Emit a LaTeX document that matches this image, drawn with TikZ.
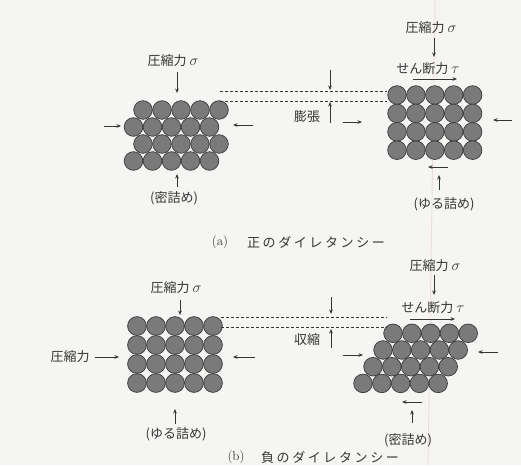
\documentclass[tikz,border=0pt]{standalone}
\usepackage{fontspec}
\newfontfamily\jp{Noto Sans CJK JP}
\newfontfamily\jpcap[LetterSpace=20]{Noto Sans CJK JP}
\usetikzlibrary{arrows.meta}

\definecolor{paper}{HTML}{F5F5F3}
\definecolor{grain}{HTML}{7A7A7A}
\definecolor{grainedge}{HTML}{3A3A3A}
\definecolor{ink}{HTML}{353535}
\definecolor{margin}{HTML}{EEDCDC}

% stress symbols set a little larger than the surrounding text
\newcommand{\stress}[1]{\hspace{3pt}\scalebox{1.25}{$#1$}}

\tikzset{
  lbl/.style={font=\jp\fontsize{13}{13}\selectfont, text=ink, inner sep=0pt},
  captext/.style={font=\jpcap\fontsize{13}{13}\selectfont, text=ink, inner sep=0pt},
  force/.style={draw=ink, line width=0.8pt, -{Stealth[length=4.5pt,width=3.6pt]}},
  levelline/.style={draw=ink, line width=0.8pt, dash pattern=on 3pt off 2pt},
  ball/.style={fill=grain, draw=grainedge, line width=0.7pt},
}

\begin{document}
\begin{tikzpicture}[x=1pt,y=-1pt]
\fill[paper] (0,0) rectangle (521,465);
\useasboundingbox (0,0) rectangle (521,465);
\clip (0,0) rectangle (521,465);

% faint ruled margin line of the page
\draw[margin, line width=0.9pt] (435,0) -- (428,465);

% ---------------- (a) positive dilatancy ----------------
% dense (hexagonal) packing
\foreach \j in {0,...,3}
  \foreach \i in {0,...,4} {
    \pgfmathsetmacro\cx{143 - 9.5*mod(\j,2) + 19*\i}
    \pgfmathsetmacro\cy{110 + 17*\j}
    \draw[ball] (\cx,\cy) circle[radius=9.3pt];
  }
\node[lbl] (aLsig) at (173,61) {圧縮力\stress{\sigma}};
\coordinate (aLt1) at (177,72);  \coordinate (aLt2) at (177,93);
\coordinate (aLl1) at (104,126); \coordinate (aLl2) at (121,126);
\coordinate (aLr1) at (253,125); \coordinate (aLr2) at (233,125);
\coordinate (aLb1) at (177,187); \coordinate (aLb2) at (177,174);
\draw[force] (aLt1) -- (aLt2);
\draw[force] (aLl1) -- (aLl2);
\draw[force] (aLr1) -- (aLr2);
\draw[force] (aLb1) -- (aLb2);
\node[lbl] (aLname) at (174,198) {(密詰め)};

% loose (square) packing
\foreach \j in {0,...,3}
  \foreach \i in {0,...,4} {
    \pgfmathsetmacro\cx{397 + 18.9*\i}
    \pgfmathsetmacro\cy{95 + 18.4*\j}
    \draw[ball] (\cx,\cy) circle[radius=9.3pt];
  }
\node[lbl] (aRsig) at (431,28) {圧縮力\stress{\sigma}};
\node[lbl] (aRtau) at (428,69) {せん断力\stress{\tau}};
\coordinate (aRt1) at (434,38);  \coordinate (aRt2) at (434,57);
\coordinate (aRs1) at (413,79);  \coordinate (aRs2) at (457,79);
\coordinate (aRl1) at (343,122); \coordinate (aRl2) at (362,122);
\coordinate (aRr1) at (512,120); \coordinate (aRr2) at (493,120);
\coordinate (aRd1) at (448,167); \coordinate (aRd2) at (428,167);
\coordinate (aRb1) at (439,190); \coordinate (aRb2) at (439,175);
\draw[force] (aRt1) -- (aRt2);
\draw[force] (aRs1) -- (aRs2);
\draw[force] (aRl1) -- (aRl2);
\draw[force] (aRr1) -- (aRr2);
\draw[force] (aRd1) -- (aRd2);
\draw[force] (aRb1) -- (aRb2);
\node[lbl] (aRname) at (444,204) {(ゆる詰め)};

% level lines and expansion marks
\coordinate (aU1) at (220,91);  \coordinate (aU2) at (387,91);
\coordinate (aD1) at (220,101); \coordinate (aD2) at (387,101);
\draw[levelline] (aU1) -- (aU2);
\draw[levelline] (aD1) -- (aD2);
\coordinate (aM1) at (330,70);  \coordinate (aM2) at (330,90);
\coordinate (aM3) at (330,123); \coordinate (aM4) at (330,102);
\draw[force] (aM1) -- (aM2);
\draw[force] (aM3) -- (aM4);
\node[lbl] (aExp) at (307,117) {膨張};

\node[inner sep=0pt, text=ink, font=\fontsize{13}{13}\selectfont] (aTag) at (220,242) {(a)};
\node[captext] (aCap) at (316,242) {正のダイレタンシー};

% ---------------- (b) negative dilatancy ----------------
% loose (square) packing
\foreach \j in {0,...,3}
  \foreach \i in {0,...,4} {
    \pgfmathsetmacro\cx{137 + 19*\i}
    \pgfmathsetmacro\cy{326 + 19*\j}
    \draw[ball] (\cx,\cy) circle[radius=9.4pt];
  }
\node[lbl] (bLsig) at (176,288) {圧縮力\stress{\sigma}};
\node[lbl] (bLside) at (70,357) {圧縮力};
\coordinate (bLt1) at (180,300); \coordinate (bLt2) at (180,315);
\coordinate (bLl1) at (95,357);  \coordinate (bLl2) at (119,357);
\coordinate (bLr1) at (255,357); \coordinate (bLr2) at (233,357);
\coordinate (bLb1) at (175,424); \coordinate (bLb2) at (175,409);
\draw[force] (bLt1) -- (bLt2);
\draw[force] (bLl1) -- (bLl2);
\draw[force] (bLr1) -- (bLr2);
\draw[force] (bLb1) -- (bLb2);
\node[lbl] (bLname) at (176,434) {(ゆる詰め)};

% sheared dense packing
\foreach \j in {0,...,3}
  \foreach \i in {0,...,4} {
    \pgfmathsetmacro\cx{393 - 10*\j + 18.8*\i}
    \pgfmathsetmacro\cy{333.3 + 16.7*\j}
    \draw[ball] (\cx,\cy) circle[radius=9.3pt];
  }
\node[lbl] (bRsig) at (435,266) {圧縮力\stress{\sigma}};
\node[lbl] (bRtau) at (433,308) {せん断力\stress{\tau}};
\coordinate (bRt1) at (434,275); \coordinate (bRt2) at (434,295);
\coordinate (bRs1) at (410,319); \coordinate (bRs2) at (455,319);
\coordinate (bRl1) at (343,355); \coordinate (bRl2) at (363,355);
\coordinate (bRr1) at (498,352); \coordinate (bRr2) at (478,352);
\coordinate (bRd1) at (422,402); \coordinate (bRd2) at (402,402);
\coordinate (bRb1) at (412,423); \coordinate (bRb2) at (412,410);
\draw[force] (bRt1) -- (bRt2);
\draw[force] (bRs1) -- (bRs2);
\draw[force] (bRl1) -- (bRl2);
\draw[force] (bRr1) -- (bRr2);
\draw[force] (bRd1) -- (bRd2);
\draw[force] (bRb1) -- (bRb2);
\node[lbl] (bRname) at (408,440) {(密詰め)};

% level lines and contraction marks
\coordinate (bU1) at (221,317.5); \coordinate (bU2) at (387,317.5);
\coordinate (bD1) at (221,327.5); \coordinate (bD2) at (387,327.5);
\draw[levelline] (bU1) -- (bU2);
\draw[levelline] (bD1) -- (bD2);
\coordinate (bM1) at (331,297); \coordinate (bM2) at (331,314);
\coordinate (bM3) at (331,348); \coordinate (bM4) at (331,329);
\draw[force] (bM1) -- (bM2);
\draw[force] (bM3) -- (bM4);
\node[lbl] (bCon) at (307,340) {収縮};

\node[inner sep=0pt, text=ink, font=\fontsize{13}{13}\selectfont] (bTag) at (236,457.5) {(b)};
\node[captext] (bCap) at (330,457.5) {負のダイレタンシー};
\end{tikzpicture}
\end{document}
